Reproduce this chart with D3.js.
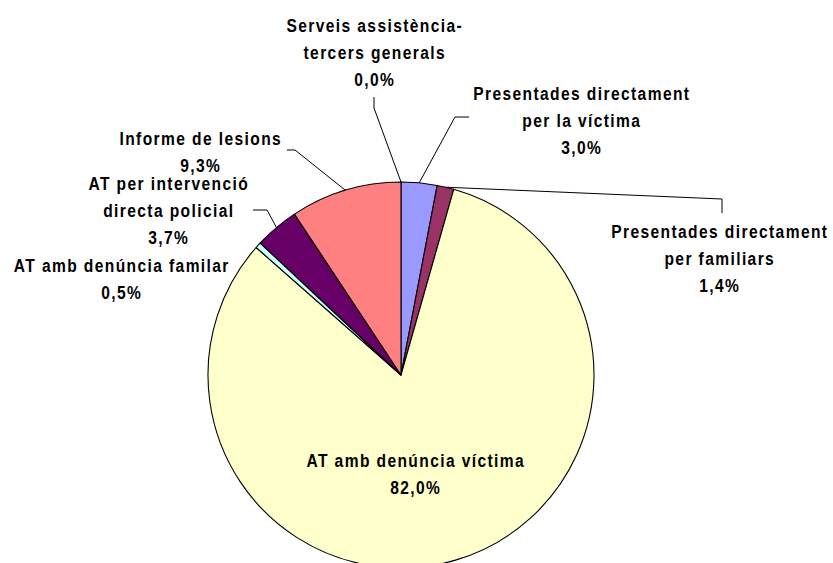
<!DOCTYPE html>
<html>
<head>
<meta charset="utf-8">
<script src="https://cdn.jsdelivr.net/npm/d3@7"></script>
<style>
  html, body { margin: 0; padding: 0; background: #ffffff; }
  svg { display: block; }
  .lbl { font-family: "Liberation Sans", Arial, sans-serif; font-size: 19px; font-weight: bold; letter-spacing: 1.7px; fill: #000; }
</style>
</head>
<body>
<svg id="chart" width="833" height="563"></svg>
<script>
// ---- data ----
const categories = [
  "Serveis assistència-tercers generals",
  "Presentades directament per la víctima",
  "Presentades directament per familiars",
  "AT amb denúncia víctima",
  "AT amb denúncia familar",
  "AT per intervenció directa policial",
  "Informe de lesions"
];
const values = [0.0, 3.0, 1.4, 82.0, 0.5, 3.7, 9.3];
const labelLines = [
  ["Serveis assistència-", "tercers generals"],
  ["Presentades directament", "per la víctima"],
  ["Presentades directament", "per familiars"],
  ["AT amb denúncia víctima"],
  ["AT amb denúncia familar"],
  ["AT per intervenció", "directa policial"],
  ["Informe de lesions"]
];
const colors = ["#FFFFFF", "#9999FF", "#993366", "#FFFFCC", "#CCFFFF", "#660066", "#FF8080"];

// ---- layout (label anchors & leader elbows) ----
const labelPos = [
  { x: 374, y: 32,  leader: [[374, 108], [374, 97]] },
  { x: 581, y: 100, leader: [[455, 117], [469, 117]] },
  { x: 719, y: 238, leader: [[722, 199], [722, 213]] },
  { x: 415, y: 467, leader: null },
  { x: 121, y: 272, leader: null },
  { x: 168, y: 190, leader: [[267, 210], [253, 210]] },
  { x: 200, y: 145, leader: [[295, 150], [287, 150]] }
];
const lineH = 27;
const squeeze = 0.82;

const svg = d3.select("#chart");
const cx = 401, cy = 375, R = 193;

const fmt = v => d3.format(".1f")(v).replace(".", ",") + "%";

const pie = d3.pie().value(d => d).sort(null);
const arcs = pie(values);
const arc = d3.arc().innerRadius(0).outerRadius(R);

const g = svg.append("g").attr("transform", `translate(${cx},${cy})`);
g.selectAll("path.slice")
  .data(arcs)
  .join("path")
  .attr("class", "slice")
  .attr("d", arc)
  .attr("fill", (d, i) => colors[i])
  .attr("stroke", "#000")
  .attr("stroke-width", 1.1)
  .attr("stroke-linejoin", "round");

// leader lines
arcs.forEach((a, i) => {
  const lp = labelPos[i];
  if (!lp.leader) return;
  const mid = (a.startAngle + a.endAngle) / 2;
  const sx = cx + R * Math.sin(mid), sy = cy - R * Math.cos(mid);
  const pts = [[sx, sy]].concat(lp.leader);
  svg.append("path")
    .attr("d", d3.line()(pts))
    .attr("fill", "none")
    .attr("stroke", "#000")
    .attr("stroke-width", 1);
});

// labels
arcs.forEach((a, i) => {
  const lp = labelPos[i];
  const lines = labelLines[i].concat([fmt(values[i])]);
  const t = svg.append("text")
    .attr("class", "lbl")
    .attr("text-anchor", "middle")
    .attr("transform", `translate(${lp.x + 0.8},0) scale(${squeeze},1)`);
  lines.forEach((s, k) => {
    t.append("tspan")
      .attr("x", 0)
      .attr("y", lp.y + k * lineH)
      .text(s);
  });
});
</script>
</body>
</html>
